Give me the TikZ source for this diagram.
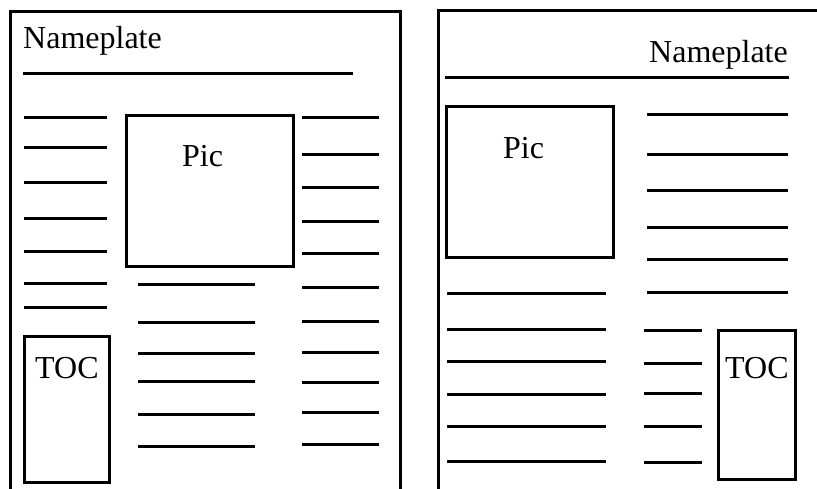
\documentclass[tikz,border=0pt]{standalone}
\usepackage{fontspec}
\setmainfont{Liberation Serif}
\tikzset{
	rule/.style={line width=3pt},
	boxed/.style={draw, line width=3pt},
	label/.style={inner sep=0pt, anchor=base west, font=\fontsize{32}{38}\selectfont}
}
\begin{document}
\begin{tikzpicture}[x=1pt, y=-1pt]
	\useasboundingbox (0,0) rectangle (817,489);
	\clip (0,0) rectangle (817,489);
	
	%left page
	\draw[rule] (10,495) -- (10,12) -- (400,12) -- (400,495);
	\node[label] (nameL) at (23,49) {Nameplate};
	\draw[rule] (23,74) -- (353,74);
	\draw[boxed] (126,116) rectangle (293,267);
	\node[label] (picL) at (182,167) {Pic};
	\draw[boxed] (24,336) rectangle (109,482);
	\node[label] (tocL) at (35,378) {TOC};
	
	\foreach \y in {118, 148, 183, 219, 252, 284, 307}{
		\draw[rule] (24, \y) -- (107, \y);
	}
	\foreach \y in {285, 322, 353, 381, 414, 446}{
		\draw[rule] (138, \y) -- (255, \y);
	}
	\foreach \y in {118, 155, 188, 222, 254, 288, 321, 352, 382, 412, 444}{
		\draw[rule] (302, \y) -- (379, \y);
	}
	
	%right page
	\draw[rule] (438,495) -- (438,11) -- (830,11);
	\node[label] (nameR) at (649,63) {Nameplate};
	\draw[rule] (445,78) -- (789,78);
	\draw[boxed] (446,107) rectangle (613,258);
	\node[label] (picR) at (503,159) {Pic};
	\draw[boxed] (718,330) rectangle (795,479);
	\node[label] (tocR) at (725,378) {TOC};
	
	\foreach \y in {115, 155, 191, 228, 260, 293}{
		\draw[rule] (647, \y) -- (788, \y);
	}
	\foreach \y in {294, 329, 361, 394, 426, 461}{
		\draw[rule] (447, \y) -- (606, \y);
	}
	\foreach \y in {330, 363, 393, 426, 462}{
		\draw[rule] (644, \y) -- (702, \y);
	}
\end{tikzpicture}
\end{document}
